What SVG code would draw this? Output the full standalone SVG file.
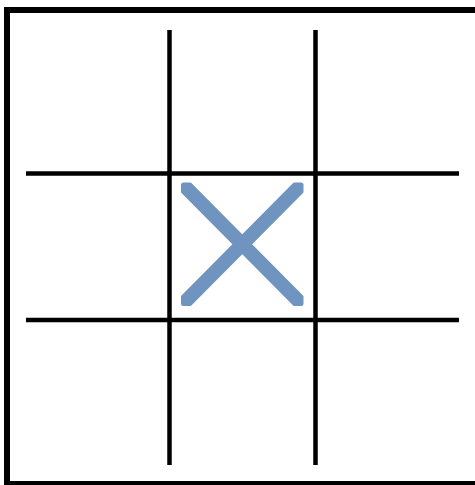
<svg xmlns="http://www.w3.org/2000/svg" width="475" height="485" viewBox="0 0 475 485">
  <style>
    .grid { stroke: #000; stroke-width: 4.5; fill: none; }
    .x { stroke: #6F94C0; stroke-width: 14; stroke-linecap: square; }
  </style>
  <defs>
    <clipPath id="xclip">
      <rect x="181" y="182.5" width="122.5" height="123.5" rx="2.5"/>
    </clipPath>
  </defs>
  <rect width="475" height="485" fill="#fff"/>
  <g id="border">
    <rect x="7" y="10" width="472" height="474" fill="none" stroke="#000" stroke-width="6"/>
  </g>
  <g id="grid" class="grid">
    <line x1="169.5" y1="30" x2="169.5" y2="465"/>
    <line x1="315.5" y1="30" x2="315.5" y2="465"/>
    <line x1="26" y1="173.5" x2="459" y2="173.5"/>
    <line x1="26" y1="320" x2="459" y2="320"/>
  </g>
  <g id="mark-x" clip-path="url(#xclip)">
    <line class="x" x1="181" y1="182.5" x2="303.5" y2="306"/>
    <line class="x" x1="303.5" y1="182.5" x2="181" y2="306"/>
  </g>
</svg>
